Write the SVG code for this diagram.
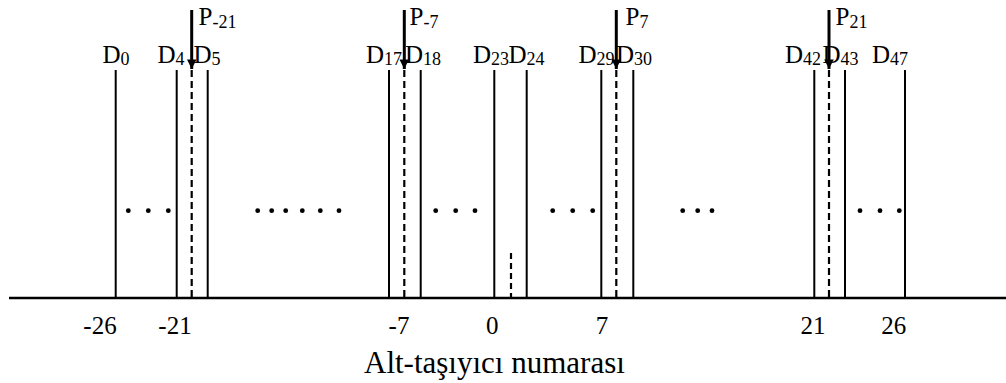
<svg xmlns="http://www.w3.org/2000/svg" width="1006" height="383" viewBox="0 0 1006 383">
<defs>
<style>
text{font-family:"Liberation Serif","Times New Roman",serif;fill:#000}
.lbl{font-size:25px}
.sub{font-size:18px}
.tick{font-size:25px;text-anchor:middle}
.title{font-size:31px}
.sc{stroke:#000;stroke-width:2;fill:none}
.pl{stroke:#000;stroke-width:2.2;stroke-dasharray:7 4;fill:none}
.arr{stroke:#000;stroke-width:3;fill:none}
.dot{fill:#000}
</style>
<marker id="ah" viewBox="0 0 10 10" refX="10" refY="5" markerWidth="3.2" markerHeight="3.2" markerUnits="strokeWidth" orient="auto">
<path d="M0,0 L10,5 L0,10 z" fill="#000"/>
</marker>
</defs>
<g id="axis"><line x1="9" y1="298" x2="1006" y2="298" stroke="#000" stroke-width="2.6"/></g>
<g id="connectors">
<line class="pl" x1="191.7" y1="70" x2="191.7" y2="298"/>
<line class="pl" x1="404.3" y1="70" x2="404.3" y2="298"/>
<line class="pl" x1="616.3" y1="70" x2="616.3" y2="298"/>
<line class="pl" x1="829" y1="70" x2="829" y2="298"/>
<line class="pl" x1="511" y1="253" x2="511" y2="298" style="stroke-dasharray:6 4"/>
<line class="arr" x1="191.7" y1="10" x2="191.7" y2="69" marker-end="url(#ah)"/>
<line class="arr" x1="404.3" y1="10" x2="404.3" y2="69" marker-end="url(#ah)"/>
<line class="arr" x1="616.3" y1="10" x2="616.3" y2="69" marker-end="url(#ah)"/>
<line class="arr" x1="829" y1="10" x2="829" y2="69" marker-end="url(#ah)"/>
</g>
<g id="D0"><line class="sc" x1="115.7" y1="70" x2="115.7" y2="298"/><text class="lbl" x="102.5" y="62.5">D<tspan class="sub" dy="2.5">0</tspan></text></g>
<g id="D4"><line class="sc" x1="176.7" y1="70" x2="176.7" y2="298"/><text class="lbl" x="157.5" y="62.5">D<tspan class="sub" dy="2.5">4</tspan></text></g>
<g id="D5"><line class="sc" x1="207.7" y1="70" x2="207.7" y2="298"/><text class="lbl" x="193.5" y="62.5">D<tspan class="sub" dy="2.5">5</tspan></text></g>
<g id="D17"><line class="sc" x1="389" y1="70" x2="389" y2="298"/><text class="lbl" x="366" y="62.5">D<tspan class="sub" dy="2.5">17</tspan></text></g>
<g id="D18"><line class="sc" x1="420.7" y1="70" x2="420.7" y2="298"/><text class="lbl" x="405" y="62.5">D<tspan class="sub" dy="2.5">18</tspan></text></g>
<g id="D23"><line class="sc" x1="494.3" y1="70" x2="494.3" y2="298"/><text class="lbl" x="473" y="62.5">D<tspan class="sub" dy="2.5">23</tspan></text></g>
<g id="D24"><line class="sc" x1="526.7" y1="70" x2="526.7" y2="298"/><text class="lbl" x="508.5" y="62.5">D<tspan class="sub" dy="2.5">24</tspan></text></g>
<g id="D29"><line class="sc" x1="601.3" y1="70" x2="601.3" y2="298"/><text class="lbl" x="578.5" y="62.5">D<tspan class="sub" dy="2.5">29</tspan></text></g>
<g id="D30"><line class="sc" x1="633.3" y1="70" x2="633.3" y2="298"/><text class="lbl" x="616" y="62.5">D<tspan class="sub" dy="2.5">30</tspan></text></g>
<g id="D42"><line class="sc" x1="814.3" y1="70" x2="814.3" y2="298"/><text class="lbl" x="785" y="62.5">D<tspan class="sub" dy="2.5">42</tspan></text></g>
<g id="D43"><line class="sc" x1="845" y1="70" x2="845" y2="298"/><text class="lbl" x="822.5" y="62.5">D<tspan class="sub" dy="2.5">43</tspan></text></g>
<g id="D47"><line class="sc" x1="905" y1="70" x2="905" y2="298"/><text class="lbl" x="872" y="62.5">D<tspan class="sub" dy="2.5">47</tspan></text></g>
<g id="P-21"><text class="lbl" x="198.5" y="25">P<tspan class="sub" dy="3">-21</tspan></text></g>
<g id="P-7"><text class="lbl" x="409.5" y="25">P<tspan class="sub" dy="3">-7</tspan></text></g>
<g id="P7"><text class="lbl" x="625.5" y="25">P<tspan class="sub" dy="3">7</tspan></text></g>
<g id="P21"><text class="lbl" x="835.5" y="25">P<tspan class="sub" dy="3">21</tspan></text></g>
<g id="dots">
<circle class="dot" cx="128.3" cy="210.7" r="2.4"/><circle class="dot" cx="148.3" cy="210.7" r="2.4"/><circle class="dot" cx="168.3" cy="210.7" r="2.4"/>
<circle class="dot" cx="257.7" cy="210.7" r="2.4"/><circle class="dot" cx="271.7" cy="210.7" r="2.4"/><circle class="dot" cx="285.7" cy="210.7" r="2.4"/><circle class="dot" cx="302.3" cy="210.7" r="2.4"/><circle class="dot" cx="320.3" cy="210.7" r="2.4"/><circle class="dot" cx="339" cy="210.7" r="2.4"/>
<circle class="dot" cx="435.7" cy="210.7" r="2.4"/><circle class="dot" cx="455.7" cy="210.7" r="2.4"/><circle class="dot" cx="475" cy="210.7" r="2.4"/>
<circle class="dot" cx="552.7" cy="210.7" r="2.4"/><circle class="dot" cx="572.7" cy="210.7" r="2.4"/><circle class="dot" cx="592.7" cy="210.7" r="2.4"/>
<circle class="dot" cx="682.7" cy="210.7" r="2.4"/><circle class="dot" cx="697.7" cy="210.7" r="2.4"/><circle class="dot" cx="712" cy="210.7" r="2.4"/>
<circle class="dot" cx="860" cy="210.7" r="2.4"/><circle class="dot" cx="880" cy="210.7" r="2.4"/><circle class="dot" cx="899.3" cy="210.7" r="2.4"/>
</g>
<g id="ticks">
<text class="tick" x="100" y="334">-26</text>
<text class="tick" x="175" y="334">-21</text>
<text class="tick" x="399" y="334">-7</text>
<text class="tick" x="492.3" y="334">0</text>
<text class="tick" x="602" y="334">7</text>
<text class="tick" x="813" y="334">21</text>
<text class="tick" x="893.7" y="334">26</text>
</g>
<g id="title"><text class="title" x="364" y="373">Alt-taşıyıcı numarası</text></g>
</svg>
